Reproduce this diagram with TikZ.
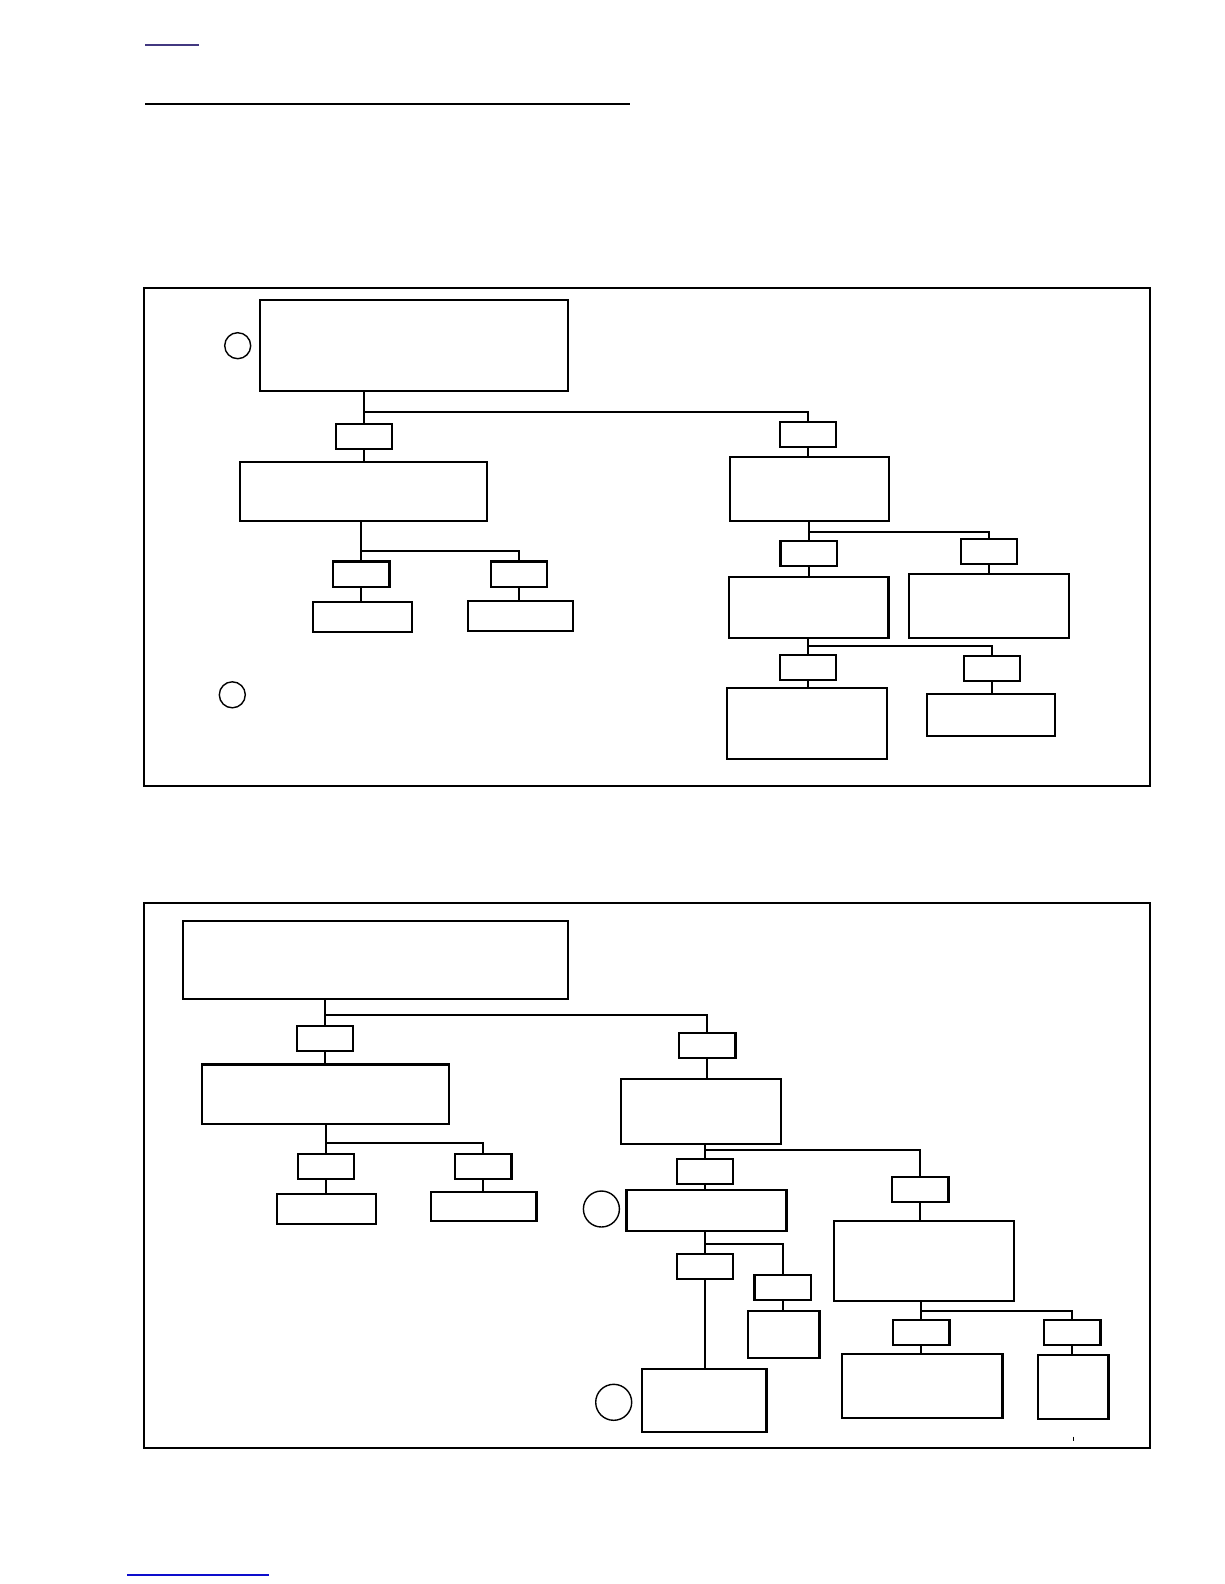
\documentclass[tikz,border=0pt]{standalone}
\definecolor{linkpurple}{rgb}{0.26,0.22,0.50}
\definecolor{linkblue}{rgb}{0.05,0.05,0.80}
\usepackage{tikz}
\usetikzlibrary{positioning}

\begin{document}
\begin{tikzpicture}[x=1pt, y=-1pt,
      box/.style={draw, line width=2.3pt, inner sep=0pt},
      tag/.style={box, minimum width=56.6pt, minimum height=25.3pt},
      ring/.style={draw, circle, line width=1.4pt, inner sep=0pt},
      frm/.style={draw, line width=1.2pt},
      cn/.style={line width=2pt}
  ]
    \useasboundingbox (0,0) rectangle (1224,1584);
    % page rules
    \draw[linkpurple, line width=1.3pt] (145,45) -- (199,45);
    \draw[line width=1.5pt] (145,104) -- (630,104);
    \draw[linkblue, line width=1.3pt] (127,1575) -- (269,1575);

    % first chart
    \draw[frm] (144,288) rectangle (1150,786);
    \node[ring, minimum size=26pt] (c1) at (237.7,345.7) {};
    \node[ring, minimum size=26pt] (c2) at (232.3,694.8) {};
    \node[box, minimum width=308.6pt, minimum height=90.7pt] (t1) at (414,345.3) {};
    \node[tag] (s1) at (364,436.3) {};
    \node[box, minimum width=247.6pt, minimum height=59pt] (a1) at (363.5,491.2) {};
    \node[tag] (s2) at (361.3,574.2) {};
    \node[tag] (s3) at (519,574.2) {};
    \node[box, minimum width=99.6pt, minimum height=30pt] (a2) at (362.5,616.7) {};
    \node[box, minimum width=105pt, minimum height=29.7pt] (a3) at (520.5,615.8) {};
    \node[tag] (s4) at (808,434.5) {};
    \node[box, minimum width=159.3pt, minimum height=63.7pt] (b1) at (809.3,488.8) {};
    \node[tag] (s5) at (808.8,553.5) {};
    \node[tag] (s6) at (989,551.3) {};
    \node[box, minimum width=159.3pt, minimum height=61.3pt] (b2) at (808.7,607.3) {};
    \node[box, minimum width=160.6pt, minimum height=64.3pt] (b3) at (989,605.8) {};
    \node[tag] (s7) at (808,667.3) {};
    \node[tag] (s8) at (992,668.3) {};
    \node[box, minimum width=160pt, minimum height=71.3pt] (b4) at (807.3,723.3) {};
    \node[box, minimum width=128.6pt, minimum height=42.3pt] (b5) at (991,714.8) {};

    \coordinate (j1) at (364,411.7);
    \coordinate (j2) at (361.3,551);
    \coordinate (j3) at (808.8,532);
    \coordinate (j4) at (808,646);
    \draw[cn] (t1.south -| s1) -- (s1.north);
    \draw[cn] (j1) -| (s4.north);
    \draw[cn] (s1.south) -- (a1.north -| s1);
    \draw[cn] (a1.south -| s2) -- (s2.north);
    \draw[cn] (j2) -| (s3.north);
    \draw[cn] (s2.south) -- (a2.north -| s2);
    \draw[cn] (s3.south) -- (a3.north -| s3);
    \draw[cn] (s4.south) -- (b1.north -| s4);
    \draw[cn] (b1.south -| s5) -- (s5.north);
    \draw[cn] (j3) -| (s6.north);
    \draw[cn] (s5.south) -- (b2.north -| s5);
    \draw[cn] (s6.south) -- (b3.north -| s6);
    \draw[cn] (b2.south -| s7) -- (s7.north);
    \draw[cn] (j4) -| (s8.north);
    \draw[cn] (s7.south) -- (b4.north -| s7);
    \draw[cn] (s8.south) -- (b5.north -| s8);

    % second chart
    \draw[frm] (144,903) rectangle (1150,1448);
    \node[box, minimum width=385.6pt, minimum height=77.7pt] (t2) at (375.5,959.8) {};
    \node[tag] (s9) at (325,1038.3) {};
    \node[box, minimum width=247.6pt, minimum height=59.7pt] (d1) at (325.5,1094.2) {};
    \node[tag] (s10) at (326,1166.3) {};
    \node[tag] (s11) at (483.3,1166.3) {};
    \node[box, minimum width=99.6pt, minimum height=30pt] (d2) at (326.5,1208.7) {};
    \node[box, minimum width=105.3pt, minimum height=29.3pt] (d3) at (483.7,1206.3) {};
    \node[tag] (s12) at (707.1,1045.3) {};
    \node[box, minimum width=160.5pt, minimum height=65pt] (e1) at (701,1111.5) {};
    \node[tag] (s13) at (705,1171.5) {};
    \node[box, minimum width=159.8pt, minimum height=41pt] (e2) at (706.5,1210.2) {};
    \node[ring, minimum size=36pt] (c3) at (601.4,1209) {};
    \node[tag] (s14) at (920.2,1189.5) {};
    \node[box, minimum width=180.5pt, minimum height=80pt] (e3) at (924,1260.7) {};
    \node[tag] (s15) at (705,1266.5) {};
    \node[tag] (s16) at (782.9,1287.5) {};
    \node[box, minimum width=71.3pt, minimum height=47.3pt] (e5) at (783.7,1334.3) {};
    \node[box, minimum width=124.6pt, minimum height=63.3pt] (e4) at (704.1,1400.3) {};
    \node[ring, minimum size=36pt] (c4) at (613.7,1402.3) {};
    \node[tag] (s17) at (921.1,1332.3) {};
    \node[tag] (s18) at (1072.2,1332.3) {};
    \node[box, minimum width=160.6pt, minimum height=64.3pt] (e6) at (922.2,1385.8) {};
    \node[box, minimum width=70.3pt, minimum height=64pt] (e7) at (1073.2,1387) {};
    \draw[line width=1.5pt] (1073.5,1436.7) -- (1073.5,1441);

    \coordinate (j5) at (325,1015.3);
    \coordinate (j6) at (326,1143);
    \coordinate (j7) at (705,1149.7);
    \coordinate (j8) at (705,1244);
    \coordinate (j9) at (921.1,1311);
    \draw[cn] (t2.south -| s9) -- (s9.north);
    \draw[cn] (j5) -| (s12.north);
    \draw[cn] (s9.south) -- (d1.north -| s9);
    \draw[cn] (d1.south -| s10) -- (s10.north);
    \draw[cn] (j6) -| (s11.north);
    \draw[cn] (s10.south) -- (d2.north -| s10);
    \draw[cn] (s11.south) -- (d3.north -| s11);
    \draw[cn] (s12.south) -- (e1.north -| s12);
    \draw[cn] (e1.south -| s13) -- (s13.north);
    \draw[cn] (j7) -| (s14.north);
    \draw[cn] (s13.south) -- (e2.north -| s13);
    \draw[cn] (s14.south) -- (e3.north -| s14);
    \draw[cn] (e2.south -| s15) -- (s15.north);
    \draw[cn] (j8) -| (s16.north);
    \draw[cn] (s15.south) -- (e4.north -| s15);
    \draw[cn] (s16.south) -- (e5.north -| s16);
    \draw[cn] (e3.south -| s17) -- (s17.north);
    \draw[cn] (j9) -| (s18.north);
    \draw[cn] (s17.south) -- (e6.north -| s17);
    \draw[cn] (s18.south) -- (e7.north -| s18);
  \end{tikzpicture}
\end{document}
